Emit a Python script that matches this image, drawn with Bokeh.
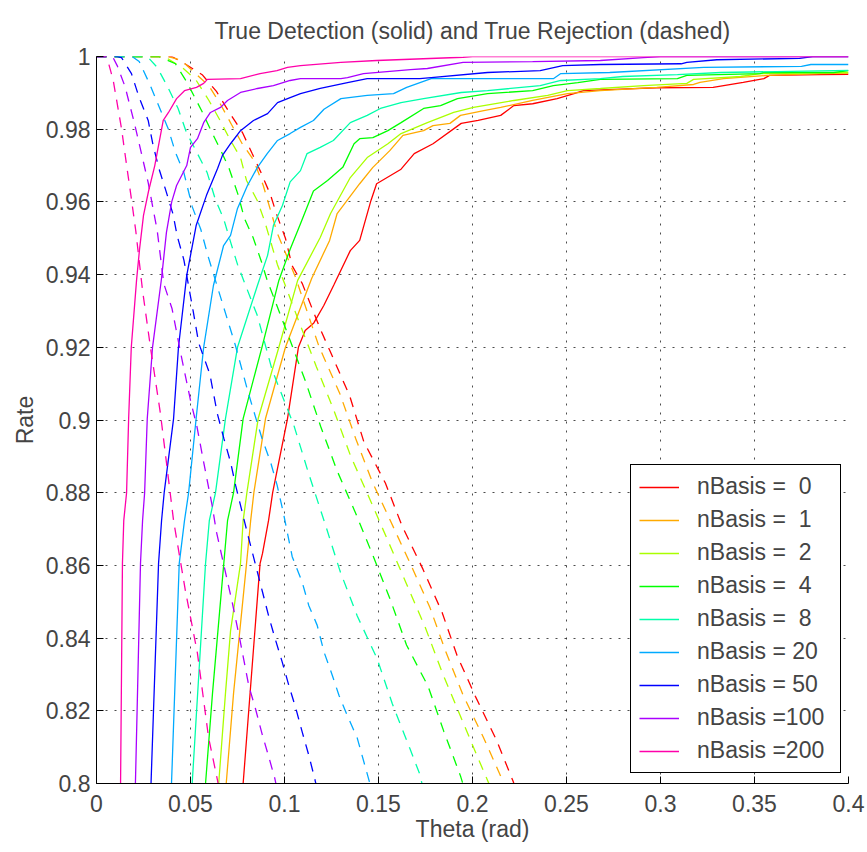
from bokeh.plotting import figure
from bokeh.models import Range1d, FixedTicker, Legend, LegendItem
from bokeh.embed import file_html
from bokeh.resources import INLINE

FONT = "Liberation Sans"

n_basis = [0, 1, 2, 4, 8, 20, 50, 100, 200]
line_colors = ["#FF0000", "#FFAA00", "#AAFF00", "#00FF00", "#00FFAA",
               "#00AAFF", "#0000FF", "#AA00FF", "#FF00AA"]

x_ticks = [0, 0.05, 0.1, 0.15, 0.2, 0.25, 0.3, 0.35, 0.4]
x_tick_labels = ["0", "0.05", "0.1", "0.15", "0.2", "0.25", "0.3", "0.35", "0.4"]
y_ticks = [0.8, 0.82, 0.84, 0.86, 0.88, 0.9, 0.92, 0.94, 0.96, 0.98, 1.0]
y_tick_labels = ["0.8", "0.82", "0.84", "0.86", "0.88", "0.9", "0.92", "0.94", "0.96", "0.98", "1"]

# ---- True detection (solid) ----
det_theta_0 = [0.076, 0.078, 0.087, 0.0883, 0.0915, 0.0937, 0.1016, 0.1074, 0.111, 0.1156, 0.1209, 0.1263, 0.135,
               0.140, 0.146, 0.149, 0.162, 0.169, 0.179, 0.194, 0.203, 0.215, 0.222, 0.232, 0.245, 0.254, 0.259,
               0.279, 0.298, 0.328, 0.336, 0.344, 0.355, 0.358, 0.385, 0.4]
det_rate_0 = [0.79, 0.80, 0.8605, 0.8633, 0.8723, 0.880, 0.9004, 0.92, 0.9246, 0.9267, 0.9315, 0.9372, 0.9466,
              0.9494, 0.9604, 0.965, 0.969, 0.9733, 0.976, 0.9816, 0.9824, 0.9838, 0.9865, 0.987, 0.9884, 0.9898, 0.9906,
              0.991, 0.9914, 0.9915, 0.9922, 0.9929, 0.9939, 0.9948, 0.995, 0.9951]

det_theta_1 = [0.068, 0.069, 0.0729, 0.0798, 0.082, 0.0837, 0.0899, 0.1005, 0.1145, 0.124, 0.128, 0.140, 0.147,
               0.156, 0.163, 0.174, 0.179, 0.188, 0.1936, 0.206, 0.215, 0.232, 0.2505, 0.268, 0.298, 0.3176, 0.321,
               0.3335, 0.357, 0.385, 0.4]
det_rate_1 = [0.79, 0.80, 0.8248, 0.8605, 0.8723, 0.880, 0.9004, 0.92, 0.939, 0.9494, 0.9568, 0.965, 0.9695,
              0.9741, 0.9783, 0.9796, 0.981, 0.9816, 0.9838, 0.9851, 0.986, 0.9879, 0.9898, 0.9906, 0.9915, 0.9923, 0.9929,
              0.9939, 0.9948, 0.9953, 0.9954]

det_theta_2 = [0.063, 0.065, 0.0686, 0.0713, 0.0766, 0.078, 0.080, 0.086, 0.097, 0.107, 0.119, 0.1245, 0.135,
               0.144, 0.155, 0.162, 0.176, 0.190, 0.2005, 0.213, 0.222, 0.240, 0.2505, 0.268, 0.291, 0.314, 0.3176,
               0.3426, 0.353, 0.4]
det_rate_2 = [0.79, 0.80, 0.8248, 0.842, 0.8605, 0.8723, 0.880, 0.9004, 0.92, 0.9384, 0.9502, 0.9568, 0.9667,
              0.9722, 0.976, 0.9788, 0.9818, 0.9846, 0.986, 0.9871, 0.9879, 0.9893, 0.9906, 0.9912, 0.992, 0.9926, 0.9937,
              0.9945, 0.9953, 0.9956]

det_theta_4 = [0.056, 0.058, 0.0617, 0.0677, 0.0697, 0.0729, 0.078, 0.088, 0.097, 0.103, 0.1085, 0.1154, 0.1229,
               0.131, 0.137, 0.140, 0.147, 0.155, 0.162, 0.174, 0.183, 0.192, 0.208, 0.232, 0.243, 0.256, 0.268,
               0.309, 0.314, 0.353, 0.355, 0.392, 0.4]
det_rate_4 = [0.79, 0.80, 0.8248, 0.8605, 0.8723, 0.880, 0.9004, 0.92, 0.9384, 0.947, 0.954, 0.963, 0.9659,
              0.9695, 0.976, 0.9774, 0.9777, 0.9796, 0.9818, 0.9857, 0.9865, 0.9884, 0.9898, 0.9906, 0.992, 0.9928, 0.9937,
              0.9939, 0.9948, 0.9953, 0.9956, 0.9956, 0.9961]

det_theta_8 = [0.0495, 0.0509, 0.058, 0.060, 0.0633, 0.0686, 0.075, 0.0856, 0.091, 0.0941, 0.0989, 0.103, 0.1085,
               0.112, 0.119, 0.126, 0.135, 0.144, 0.151, 0.162, 0.174, 0.194, 0.208, 0.236, 0.247, 0.268, 0.280,
               0.309, 0.332, 0.4]
det_rate_8 = [0.79, 0.80, 0.8605, 0.8723, 0.880, 0.9004, 0.92, 0.937, 0.9453, 0.9535, 0.959, 0.9655, 0.9686,
              0.9733, 0.975, 0.9769, 0.9818, 0.9838, 0.9857, 0.9873, 0.9884, 0.9901, 0.9906, 0.992, 0.9934, 0.9939, 0.9945,
              0.995, 0.9956, 0.9962]

det_theta_20 = [0.0385, 0.0399, 0.044, 0.0468, 0.049, 0.053, 0.057, 0.0622, 0.0676, 0.0713, 0.075, 0.0803, 0.0856,
                0.0908, 0.0963, 0.103, 0.1085, 0.1154, 0.121, 0.130, 0.144, 0.158, 0.165, 0.178, 0.243, 0.247, 0.273,
                0.323, 0.375, 0.380, 0.4]
det_rate_20 = [0.79, 0.80, 0.8605, 0.8723, 0.880, 0.9004, 0.92, 0.937, 0.948, 0.9508, 0.9582, 0.9645, 0.9695,
               0.9733, 0.9769, 0.9788, 0.9805, 0.9824, 0.9855, 0.9884, 0.9893, 0.9898, 0.9915, 0.9939, 0.9939, 0.9953, 0.9956,
               0.997, 0.9973, 0.9978, 0.9978]

det_theta_50 = [0.028, 0.029, 0.033, 0.0346, 0.036, 0.041, 0.0436, 0.048, 0.053, 0.0585, 0.0644, 0.067, 0.0713,
                0.0766, 0.0835, 0.091, 0.0963, 0.103, 0.1085, 0.119, 0.1335, 0.144, 0.172, 0.178, 0.208, 0.236, 0.248,
                0.268, 0.311, 0.314, 0.330, 0.374, 0.381, 0.4]
det_rate_50 = [0.79, 0.80, 0.8605, 0.8723, 0.880, 0.9004, 0.92, 0.9398, 0.9535, 0.9618, 0.9692, 0.9728, 0.976,
               0.9796, 0.9824, 0.9843, 0.9873, 0.9887, 0.9898, 0.9912, 0.9928, 0.9939, 0.9939, 0.9942, 0.9956, 0.9961, 0.9975,
               0.9978, 0.998, 0.9984, 0.9991, 0.9995, 1.0, 1.0]

det_theta_100 = [0.0195, 0.0207, 0.0234, 0.0245, 0.0256, 0.027, 0.0298, 0.0346, 0.0372, 0.040, 0.0426, 0.048, 0.050,
                 0.0537, 0.057, 0.0606, 0.066, 0.0697, 0.0766, 0.0856, 0.0941, 0.103, 0.1085, 0.130, 0.1335, 0.142, 0.167,
                 0.176, 0.195, 0.232, 0.268, 0.291, 0.300, 0.4]
det_rate_100 = [0.79, 0.80, 0.8605, 0.8723, 0.880, 0.9004, 0.92, 0.939, 0.9516, 0.96, 0.9645, 0.970, 0.975,
                0.9774, 0.9818, 0.9846, 0.986, 0.9879, 0.9901, 0.9912, 0.992, 0.9934, 0.9939, 0.9939, 0.9942, 0.9953, 0.9964,
                0.9967, 0.9984, 0.9986, 0.9989, 0.9997, 1.0, 1.0]

det_theta_200 = [0.012, 0.0128, 0.0138, 0.0145, 0.016, 0.0171, 0.0185, 0.0213, 0.0229, 0.025, 0.0277, 0.031, 0.0355,
                 0.0383, 0.0426, 0.0468, 0.0532, 0.057, 0.059, 0.0766, 0.087, 0.096, 0.1016, 0.1085, 0.130, 0.149, 0.195,
                 0.200, 0.4]
det_rate_200 = [0.79, 0.80, 0.8605, 0.8723, 0.880, 0.9004, 0.92, 0.9384, 0.947, 0.9563, 0.963, 0.970, 0.9824,
                0.9846, 0.9884, 0.9906, 0.9915, 0.9926, 0.9937, 0.9939, 0.9953, 0.9961, 0.997, 0.9975, 0.9984, 0.9989, 0.9998,
                1.0, 1.0]

# ---- True rejection (dashed) ----
rej_theta_0 = [0.0, 0.040, 0.047, 0.0562, 0.0638, 0.0707, 0.0777, 0.0828, 0.0872, 0.0925, 0.096, 0.1005, 0.104,
               0.1094, 0.1188, 0.1241, 0.1347, 0.1422, 0.1537, 0.1626, 0.1737, 0.1838, 0.1918, 0.2016, 0.2127, 0.2216, 0.224]
rej_rate_0 = [1.0, 1.0, 0.998, 0.995, 0.9904, 0.9846, 0.979, 0.9733, 0.9684, 0.962, 0.9563, 0.950, 0.9425,
              0.9376, 0.9253, 0.9191, 0.9066, 0.894, 0.8826, 0.8708, 0.8589, 0.8471, 0.8352, 0.8239, 0.812, 0.8006, 0.797]

rej_theta_1 = [0.0, 0.038, 0.045, 0.0514, 0.0597, 0.0658, 0.0718, 0.0775, 0.0837, 0.0887, 0.0924, 0.096, 0.1013,
               0.1057, 0.1183, 0.1294, 0.1378, 0.1466, 0.1564, 0.167, 0.1773, 0.1856, 0.195, 0.2057, 0.2158, 0.218]
rej_rate_1 = [1.0, 1.0, 0.999, 0.9959, 0.992, 0.987, 0.9813, 0.976, 0.9714, 0.9645, 0.958, 0.9516, 0.945,
              0.9395, 0.9203, 0.9073, 0.895, 0.8831, 0.8722, 0.8604, 0.8485, 0.8365, 0.8243, 0.8128, 0.8011, 0.797]

rej_theta_2 = [0.0, 0.036, 0.0455, 0.0527, 0.0598, 0.0651, 0.0713, 0.0766, 0.0798, 0.0855, 0.0895, 0.0962, 0.107,
               0.117, 0.1263, 0.1351, 0.1454, 0.155, 0.1649, 0.175, 0.1839, 0.1936, 0.2031, 0.2087, 0.211]
rej_rate_2 = [1.0, 1.0, 0.997, 0.9937, 0.9879, 0.983, 0.9769, 0.9722, 0.9659, 0.9604, 0.9546, 0.9428, 0.928,
              0.9146, 0.9026, 0.8902, 0.8782, 0.8668, 0.8549, 0.8428, 0.8305, 0.8185, 0.8068, 0.800, 0.797]

rej_theta_4 = [0.0, 0.033, 0.042, 0.048, 0.056, 0.061, 0.066, 0.0704, 0.0753, 0.0787, 0.0833, 0.0877, 0.0908,
               0.100, 0.1112, 0.1192, 0.128, 0.1378, 0.1472, 0.1564, 0.1649, 0.1764, 0.1847, 0.1936, 0.196]
rej_rate_4 = [1.0, 1.0, 0.998, 0.993, 0.985, 0.9795, 0.9743, 0.9694, 0.962, 0.9554, 0.9502, 0.9436, 0.9384,
              0.926, 0.9106, 0.8983, 0.886, 0.8744, 0.8625, 0.8504, 0.8381, 0.8267, 0.8144, 0.8021, 0.798]

rej_theta_8 = [0.0, 0.027, 0.0323, 0.038, 0.0434, 0.0479, 0.0535, 0.0589, 0.0632, 0.0676, 0.0713, 0.075, 0.0791,
               0.0855, 0.0934, 0.105, 0.1124, 0.1218, 0.1295, 0.1387, 0.1493, 0.1573, 0.1667, 0.172, 0.174]
rej_rate_8 = [1.0, 1.0, 0.997, 0.9915, 0.9857, 0.979, 0.9735, 0.968, 0.9607, 0.9554, 0.949, 0.9428, 0.9373,
              0.9288, 0.9138, 0.8985, 0.886, 0.8711, 0.8585, 0.8461, 0.8343, 0.822, 0.8096, 0.8025, 0.798]

rej_theta_20 = [0.0, 0.019, 0.0227, 0.0284, 0.0328, 0.0381, 0.042, 0.0465, 0.0509, 0.0555, 0.0592, 0.0635, 0.0739,
                0.0805, 0.0846, 0.0881, 0.0926, 0.0961, 0.0993, 0.1041, 0.1094, 0.1129, 0.1174, 0.121, 0.1254, 0.129,
                0.1334, 0.1387, 0.1451, 0.147]
rej_rate_20 = [1.0, 1.0, 0.9986, 0.9923, 0.9868, 0.9802, 0.9736, 0.968, 0.9587, 0.9524, 0.9453, 0.938, 0.9205,
               0.9079, 0.9008, 0.8948, 0.8884, 0.882, 0.8747, 0.8624, 0.8554, 0.849, 0.8435, 0.8362, 0.8298, 0.8242,
               0.8187, 0.8125, 0.8006, 0.797]

rej_theta_50 = [0.0, 0.011, 0.0133, 0.0186, 0.0225, 0.0275, 0.030, 0.0332, 0.0369, 0.0406, 0.043, 0.0465, 0.0514,
                0.0544, 0.0603, 0.0642, 0.0677, 0.0713, 0.074, 0.0802, 0.0881, 0.0917, 0.0952, 0.0988, 0.1023, 0.1059,
                0.1094, 0.1129, 0.116, 0.118]
rej_rate_50 = [1.0, 1.0, 0.9997, 0.9953, 0.989, 0.9824, 0.9758, 0.9692, 0.9631, 0.9568, 0.9505, 0.944, 0.930,
               0.9211, 0.9126, 0.9019, 0.895, 0.8884, 0.882, 0.869, 0.8531, 0.8458, 0.8395, 0.8334, 0.827, 0.8209,
               0.8142, 0.8078, 0.8015, 0.797]

rej_theta_100 = [0.0, 0.0085, 0.011, 0.0152, 0.020, 0.0245, 0.0275, 0.0301, 0.0323, 0.0358, 0.0402, 0.045, 0.050,
                 0.0535, 0.057, 0.0615, 0.0638, 0.0686, 0.0722, 0.0762, 0.081, 0.0846, 0.0881, 0.0917, 0.0949, 0.097]
rej_rate_100 = [1.0, 1.0, 0.9975, 0.9917, 0.982, 0.972, 0.9653, 0.9581, 0.9521, 0.9375, 0.9306, 0.9178, 0.9054,
                0.898, 0.8884, 0.8765, 0.8692, 0.8581, 0.8498, 0.8398, 0.8269, 0.8205, 0.8136, 0.8072, 0.8013, 0.796]

rej_theta_200 = [0.0, 0.005, 0.0065, 0.0089, 0.0133, 0.0163, 0.0183, 0.0209, 0.0245, 0.0287, 0.034, 0.041, 0.0473,
                 0.0537, 0.0596, 0.0644, 0.066]
rej_rate_200 = [1.0, 1.0, 0.998, 0.9934, 0.9802, 0.969, 0.9618, 0.952, 0.9356, 0.920, 0.9018, 0.8723, 0.853,
                0.8358, 0.8127, 0.8008, 0.796]

det_theta = [det_theta_0, det_theta_1, det_theta_2, det_theta_4, det_theta_8,
             det_theta_20, det_theta_50, det_theta_100, det_theta_200]
det_rate = [det_rate_0, det_rate_1, det_rate_2, det_rate_4, det_rate_8,
            det_rate_20, det_rate_50, det_rate_100, det_rate_200]
rej_theta = [rej_theta_0, rej_theta_1, rej_theta_2, rej_theta_4, rej_theta_8,
             rej_theta_20, rej_theta_50, rej_theta_100, rej_theta_200]
rej_rate = [rej_rate_0, rej_rate_1, rej_rate_2, rej_rate_4, rej_rate_8,
            rej_rate_20, rej_rate_50, rej_rate_100, rej_rate_200]

p = figure(width=867, height=852, output_backend="svg", toolbar_location=None,
           x_range=Range1d(0, 0.4), y_range=Range1d(0.8, 1.0),
           min_border_left=96, min_border_right=19, min_border_top=56, min_border_bottom=69,
           title="True Detection (solid) and True Rejection (dashed)")
p.background_fill_color = "white"
p.border_fill_color = "white"
p.outline_line_color = None

p.title.text_font = FONT
p.title.text_font_size = "23px"
p.title.text_font_style = "normal"
p.title.align = "center"
p.title.standoff = 26

for ax, ticks, labels in ((p.xaxis[0], x_ticks, x_tick_labels), (p.yaxis[0], y_ticks, y_tick_labels)):
    ax.ticker = FixedTicker(ticks=ticks)
    ax.major_label_overrides = dict(zip(ticks, labels))
    ax.major_label_text_font = FONT
    ax.major_label_text_font_size = "23px"
    ax.axis_label_text_font = FONT
    ax.axis_label_text_font_size = "23px"
    ax.axis_label_text_font_style = "normal"
    ax.axis_line_color = "black"
    ax.major_tick_in = 7
    ax.major_tick_out = 0
    ax.minor_tick_line_color = None
    ax.major_tick_line_color = "black"

p.xaxis.axis_label = "Theta (rad)"
p.yaxis.axis_label = "Rate"
p.xaxis.major_label_standoff = 11
p.yaxis.major_label_standoff = 6
p.xaxis.axis_label_standoff = 1
p.yaxis.axis_label_standoff = 5

for g in (p.xgrid[0], p.ygrid[0]):
    g.grid_line_color = "black"
    g.grid_line_alpha = 0.7
    g.grid_line_dash = "2 7"
    g.grid_line_width = 1

items = []
for i, n in enumerate(n_basis):
    c = line_colors[i]
    r_solid = p.line(det_theta[i], det_rate[i], line_color=c, line_width=1.3)
    p.line(rej_theta[i], rej_rate[i], line_color=c, line_width=1.3, line_dash="10 8")
    label = "nBasis =" + f"{n:3d}".replace(" ", "\u00a0")
    items.append(LegendItem(label=label, renderers=[r_solid]))

legend = Legend(items=items, location=(534, 10),
                border_line_color="black", border_line_width=1, border_line_alpha=1,
                background_fill_color="white", background_fill_alpha=1,
                label_text_font=FONT, label_text_font_size="23px",
                glyph_width=40, glyph_height=20, label_standoff=18, label_width=135,
                padding=8, spacing=6, margin=0)
p.add_layout(legend)

open("out.html", "w").write(file_html(p, INLINE))
